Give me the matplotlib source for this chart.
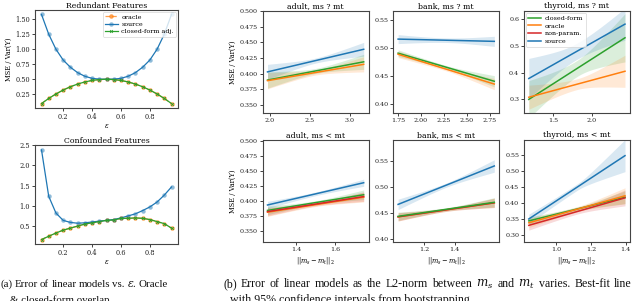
import numpy as np
import matplotlib
matplotlib.use("Agg")
import matplotlib.pyplot as plt
from matplotlib.lines import Line2D
from matplotlib.ticker import FormatStrFormatter

plt.rcParams['font.family'] = ['DejaVu Serif']
plt.rcParams['mathtext.fontset'] = 'dejavuserif'

C_BLUE, C_ORANGE, C_GREEN, C_RED = '#1f77b4', '#ff7f0e', '#2ca02c', '#d62728'
SPINE = '#444444'

# ---------------- (a) data ----------------
eps = [0.05, 0.10, 0.15, 0.20, 0.25, 0.30, 0.35, 0.40, 0.45, 0.50,
       0.55, 0.60, 0.65, 0.70, 0.75, 0.80, 0.85, 0.90, 0.95]
red_source = [1.58, 1.25, 1.00, 0.82, 0.70, 0.61, 0.55, 0.515, 0.502, 0.50,
              0.502, 0.515, 0.55, 0.61, 0.70, 0.82, 1.00, 1.25, 1.58]
red_oracle = [0.095, 0.18, 0.255, 0.32, 0.375, 0.42, 0.455, 0.48, 0.495, 0.50,
              0.495, 0.48, 0.455, 0.42, 0.375, 0.32, 0.255, 0.18, 0.095]
red_closed = [0.095, 0.18, 0.255, 0.32, 0.375, 0.42, 0.455, 0.48, 0.495, 0.50,
              0.495, 0.48, 0.455, 0.42, 0.375, 0.32, 0.255, 0.18, 0.095]
conf_source = [2.38, 1.24, 0.83, 0.65, 0.60, 0.58, 0.59, 0.61, 0.63, 0.65,
               0.67, 0.71, 0.76, 0.81, 0.89, 0.98, 1.10, 1.27, 1.47]
conf_oracle = [0.18, 0.26, 0.34, 0.41, 0.46, 0.51, 0.56, 0.59, 0.62, 0.65,
               0.66, 0.70, 0.70, 0.71, 0.70, 0.67, 0.62, 0.57, 0.46]
conf_closed = [0.18, 0.26, 0.34, 0.41, 0.46, 0.51, 0.56, 0.59, 0.62, 0.65,
               0.66, 0.70, 0.70, 0.71, 0.70, 0.67, 0.62, 0.57, 0.46]

# ---------------- (b) data: fitted line end values + CI half-widths (left, mid, right) ----
adult_geq_x = [1.975, 3.175]
adult_geq_closed, adult_geq_closed_ci = [0.390, 0.419], [0.013, 0.004, 0.012]
adult_geq_oracle, adult_geq_oracle_ci = [0.389, 0.415], [0.013, 0.004, 0.012]
adult_geq_source, adult_geq_source_ci = [0.403, 0.439], [0.012, 0.004, 0.011]

bank_geq_x = [1.75, 2.80]
bank_geq_closed, bank_geq_closed_ci = [0.491, 0.441], [0.006, 0.003, 0.010]
bank_geq_oracle, bank_geq_oracle_ci = [0.489, 0.436], [0.006, 0.003, 0.010]
bank_geq_source, bank_geq_source_ci = [0.516, 0.512], [0.008, 0.004, 0.009]

thyroid_geq_x = [1.18, 2.435]
thyroid_geq_closed, thyroid_geq_closed_ci = [0.300, 0.530], [0.070, 0.030, 0.090]
thyroid_geq_oracle, thyroid_geq_oracle_ci = [0.308, 0.405], [0.045, 0.020, 0.060]
thyroid_geq_source, thyroid_geq_source_ci = [0.378, 0.581], [0.075, 0.030, 0.060]

adult_lt_x = [1.253, 1.745]
adult_lt_closed, adult_lt_closed_ci = [0.385, 0.411], [0.007, 0.003, 0.008]
adult_lt_oracle, adult_lt_oracle_ci = [0.382, 0.407], [0.007, 0.003, 0.008]
adult_lt_nonparam, adult_lt_nonparam_ci = [0.383, 0.408], [0.007, 0.003, 0.008]
adult_lt_source, adult_lt_source_ci = [0.394, 0.431], [0.006, 0.003, 0.006]

bank_lt_x = [1.031, 1.66]
bank_lt_closed, bank_lt_closed_ci = [0.443, 0.470], [0.008, 0.003, 0.009]
bank_lt_oracle, bank_lt_oracle_ci = [0.442, 0.469], [0.008, 0.003, 0.009]
bank_lt_nonparam, bank_lt_nonparam_ci = [0.442, 0.469], [0.008, 0.003, 0.009]
bank_lt_source, bank_lt_source_ci = [0.466, 0.540], [0.010, 0.004, 0.012]

thyroid_lt_x = [0.842, 1.397]
thyroid_lt_closed, thyroid_lt_closed_ci = [0.344, 0.418], [0.012, 0.006, 0.020]
thyroid_lt_oracle, thyroid_lt_oracle_ci = [0.338, 0.4225], [0.015, 0.008, 0.025]
thyroid_lt_nonparam, thyroid_lt_nonparam_ci = [0.330, 0.416], [0.015, 0.008, 0.025]
thyroid_lt_source, thyroid_lt_source_ci = [0.350, 0.548], [0.015, 0.010, 0.050]

titles_geq = ['adult, ms ? mt', 'bank, ms ? mt', 'thyroid, ms ? mt']
titles_lt = ['adult, ms < mt', 'bank, ms < mt', 'thyroid, ms < mt']

fig = plt.figure(figsize=(6.4, 3.01), dpi=100)


def style(ax, fs=4.6):
    for s in ax.spines.values():
        s.set_color(SPINE)
        s.set_linewidth(0.8)
    ax.tick_params(labelsize=fs, length=2, width=0.6, pad=1.5, colors='#222222')


# ---------------- (a) panels ----------------
axA1 = fig.add_axes([35/640, 1-108/301, 143/640, 98/301])
axA2 = fig.add_axes([35/640, 1-244/301, 143/640, 99/301])
for ax, src, orc, cls, title in [(axA1, red_source, red_oracle, red_closed, 'Redundant Features'),
                                 (axA2, conf_source, conf_oracle, conf_closed, 'Confounded Features')]:
    ax.plot(eps, orc, '--o', color=C_ORANGE, lw=0.9, ms=3.2, alpha=0.75, mew=0, label='oracle')
    ax.plot(eps, src, '-o', color=C_BLUE, lw=0.9, ms=3.2, mfc=(0.12, 0.47, 0.71, 0.5), mew=0, label='source')
    ax.plot(eps, cls, '-x', color=C_GREEN, lw=0.9, ms=2, mew=0.6, label='closed-form adj.')
    ax.set_title(title, fontsize=5.6, pad=1.5)
    ax.set_xticks([0.2, 0.4, 0.6, 0.8])
    ax.set_xlabel(r'$\epsilon$', fontsize=5, labelpad=1)
    style(ax, 4.8)
axA1.set_yticks([0.25, 0.5, 0.75, 1.0, 1.25, 1.5])
axA1.set_ylabel('MSE / Var(Y)', fontsize=4.8, labelpad=2)
axA2.set_yticks([0.5, 1.0, 1.5, 2.0, 2.5])
leg = axA1.legend(loc='upper right', fontsize=4.6, handlelength=2.0, borderpad=0.35,
                  labelspacing=0.3, handletextpad=0.6, borderaxespad=0.3, framealpha=0.8)
leg.get_frame().set_linewidth(0.5)


# ---------------- (b) panels ----------------
def reg(ax, x, y, ci, color):
    x0, x1 = x
    xm = 0.5 * (x0 + x1)
    xs = np.linspace(x0, x1, 60)
    ys = np.interp(xs, x, y)
    wl, wm, wr = ci
    t = (xs - xm) / (x1 - xm)
    we = np.where(t < 0, wl, wr)
    w = np.sqrt(wm**2 + (we**2 - wm**2) * t**2)
    ax.fill_between(xs, ys - w, ys + w, color=color, alpha=0.17, lw=0)
    ax.plot(x, y, color=color, lw=1.1)


lefts = [262.7, 393.3, 524.0]
wid = 105.8
row_geq = [(adult_geq_x, [(adult_geq_closed, adult_geq_closed_ci, C_GREEN), (adult_geq_oracle, adult_geq_oracle_ci, C_ORANGE), (adult_geq_source, adult_geq_source_ci, C_BLUE)], (0.337, 0.5), [0.35, 0.375, 0.4, 0.425, 0.45, 0.475, 0.5], [2.0, 2.5, 3.0], '%.3f', '%.1f'),
           (bank_geq_x, [(bank_geq_closed, bank_geq_closed_ci, C_GREEN), (bank_geq_oracle, bank_geq_oracle_ci, C_ORANGE), (bank_geq_source, bank_geq_source_ci, C_BLUE)], (0.384, 0.566), [0.40, 0.45, 0.50, 0.55], [1.75, 2.0, 2.25, 2.5, 2.75], '%.2f', '%.2f'),
           (thyroid_geq_x, [(thyroid_geq_closed, thyroid_geq_closed_ci, C_GREEN), (thyroid_geq_oracle, thyroid_geq_oracle_ci, C_ORANGE), (thyroid_geq_source, thyroid_geq_source_ci, C_BLUE)], (0.248, 0.63), [0.3, 0.4, 0.5, 0.6], [1.5, 2.0], '%.1f', '%.1f')]
row_lt = [(adult_lt_x, [(adult_lt_oracle, adult_lt_oracle_ci, C_ORANGE), (adult_lt_closed, adult_lt_closed_ci, C_GREEN), (adult_lt_nonparam, adult_lt_nonparam_ci, C_RED), (adult_lt_source, adult_lt_source_ci, C_BLUE)], (0.332, 0.502), [0.35, 0.375, 0.4, 0.425, 0.45, 0.475, 0.5], [1.4, 1.6], '%.3f', '%.1f'),
          (bank_lt_x, [(bank_lt_oracle, bank_lt_oracle_ci, C_ORANGE), (bank_lt_nonparam, bank_lt_nonparam_ci, C_RED), (bank_lt_closed, bank_lt_closed_ci, C_GREEN), (bank_lt_source, bank_lt_source_ci, C_BLUE)], (0.393, 0.59), [0.40, 0.45, 0.50, 0.55], [1.2, 1.4], '%.2f', '%.1f'),
          (thyroid_lt_x, [(thyroid_lt_closed, thyroid_lt_closed_ci, C_GREEN), (thyroid_lt_nonparam, thyroid_lt_nonparam_ci, C_RED), (thyroid_lt_oracle, thyroid_lt_oracle_ci, C_ORANGE), (thyroid_lt_source, thyroid_lt_source_ci, C_BLUE)], (0.277, 0.597), [0.30, 0.35, 0.40, 0.45, 0.50, 0.55], [1.0, 1.2, 1.4], '%.2f', '%.1f')]

for r, (rowdata, titles, top, bot) in enumerate([(row_geq, titles_geq, 11, 113.3), (row_lt, titles_lt, 140, 242.3)]):
    for c, (x, lines, ylim, yt, xt, yf, xf) in enumerate(rowdata):
        ax = fig.add_axes([lefts[c]/640, 1-bot/301, wid/640, (bot-top)/301])
        for y, ci, col in lines:
            reg(ax, x, y, ci, col)
        ax.set_ylim(*ylim)
        ax.set_yticks(yt)
        ax.set_xticks(xt)
        ax.yaxis.set_major_formatter(FormatStrFormatter(yf))
        ax.xaxis.set_major_formatter(FormatStrFormatter(xf))
        ax.set_title(titles[c], fontsize=5.6, pad=2)
        style(ax, 4.6)
        if c == 0:
            ax.set_ylabel('MSE / Var(Y)', fontsize=4.8, labelpad=2)
        if r == 1:
            ax.set_xlabel(r'$||m_s - m_t||_2$', fontsize=4.8, labelpad=2)
        if r == 0 and c == 2:
            handles = [Line2D([], [], color=C_GREEN, lw=1.1), Line2D([], [], color=C_ORANGE, lw=1.1),
                       Line2D([], [], color=C_RED, lw=1.1), Line2D([], [], color=C_BLUE, lw=1.1)]
            lg = ax.legend(handles, ['closed-form', 'oracle', 'non-param.', 'source'], loc='upper left',
                           fontsize=4.6, handlelength=2.0, borderpad=0.4, labelspacing=0.35,
                           handletextpad=0.6, borderaxespad=0.3, framealpha=0.8)
            lg.get_frame().set_linewidth(0.5)

# ---------------- captions (first lines justified like the paper) ----------------
renderer = fig.canvas.get_renderer()


def justified(words, x0, x1, y, cap):
    texts = [fig.text(0, 1 - y/301, w, **cap) for w in words]
    widths = [t.get_window_extent(renderer).width for t in texts]
    gap = (x1 - x0 - sum(widths)) / (len(words) - 1)
    x = x0
    for t, w in zip(texts, widths):
        t.set_x(x/640)
        x += w + gap


cap_a = dict(fontsize=7.8, family='Liberation Serif', color='#111111')
cap_b = dict(fontsize=8.6, family='Liberation Serif', color='#111111')
justified(['(a)', 'Error', 'of', 'linear', 'models', 'vs.', r'$\epsilon$.', 'Oracle'], 0.5, 168, 287, cap_a)
fig.text(10/640, 1-303/301, '& closed-form overlap.', **cap_a)
justified(['(b)', 'Error', 'of', 'linear', 'models', 'as', 'the', 'L2-norm', 'between', r'$m_s$', 'and',
           r'$m_t$', 'varies.', 'Best-fit', 'line'], 223, 632, 287, cap_b)
fig.text(230/640, 1-303/301, 'with 95% confidence intervals from bootstrapping.', **cap_b)

fig.savefig('out.png', dpi=100)
